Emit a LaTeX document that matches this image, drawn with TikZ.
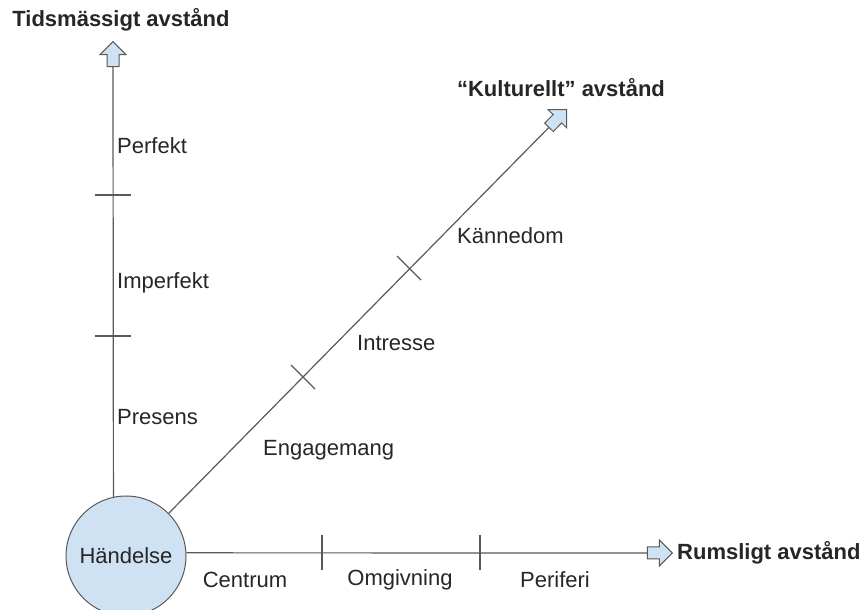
\documentclass[tikz,border=0pt]{standalone}
\usepackage{fontspec}
\setmainfont{Liberation Sans}
\usepackage{xcolor}
\usepackage{tikz}
\usetikzlibrary{shapes,arrows,positioning,calc}

\definecolor{ljusbla}{HTML}{CFE2F3}
\definecolor{linje}{HTML}{595959}

\begin{document}
\begin{tikzpicture}[x=1pt, y=1pt, font=\fontsize{22}{26}\selectfont,
    pil/.style={single arrow, draw=linje, fill=ljusbla, line width=1pt, inner sep=0pt,
        text height=6pt, text depth=5pt, minimum height=25pt, single arrow head extend=7pt, anchor=tip},
    axel/.style={draw=linje, line width=1.2pt},
    etikett/.style={text=black!85, inner sep=0pt}]
    \useasboundingbox (0,0) rectangle (867,610);
    \node[circle, draw=linje, fill=ljusbla, line width=1pt, minimum size=120pt, inner sep=0pt, etikett] (handelse) at (126,54) {Händelse};
    \node[pil, rotate=90] (tidpil) at (113,569) {};
    \node[pil, rotate=45.5] (kulturpil) at (567,501) {};
    \node[pil] (rumspil) at (673,57) {};
    \draw[axel] (handelse.102) -- (tidpil.tail);
    \draw[axel] (handelse.45) -- (kulturpil.tail);
    \draw[axel] (handelse.3) -- (rumspil.tail);
    % streck
    \draw[axel] (95,415) -- (131,415);
    \draw[axel] (95,274) -- (131,274);
    \draw[axel] (397,354) -- (421,330);
    \draw[axel] (291,245) -- (315,221);
    \draw[axel] (322,75) -- (322,40);
    \draw[axel] (480,75) -- (480,40);
    % rubriker
    \node[etikett, font=\fontsize{22}{26}\selectfont\bfseries] (tidrubrik) at (121,590) {Tidsmässigt avstånd};
    \node[etikett, font=\fontsize{22}{26}\selectfont\bfseries] (kulturrubrik) at (561,522) {“Kulturellt” avstånd};
    \node[etikett, font=\fontsize{22}{26}\selectfont\bfseries, right=4pt of rumspil.tip] (rumsrubrik) {Rumsligt avstånd};
    % tid
    \node[etikett, anchor=west] (perfekt) at (117,464) {Perfekt};
    \node[etikett, anchor=west] (imperfekt) at (117,327) {Imperfekt};
    \node[etikett, anchor=west] (presens) at (117,193) {Presens};
    % kultur
    \node[etikett, anchor=west] (kannedom) at (457,374) {Kännedom};
    \node[etikett, anchor=west] (intresse) at (357,267) {Intresse};
    \node[etikett, anchor=west] (engagemang) at (263,160) {Engagemang};
    % rum
    \node[etikett] (centrum) at (245,30) {Centrum};
    \node[etikett] (omgivning) at (400,30) {Omgivning};
    \node[etikett] (periferi) at (555,30) {Periferi};
\end{tikzpicture}
\end{document}
